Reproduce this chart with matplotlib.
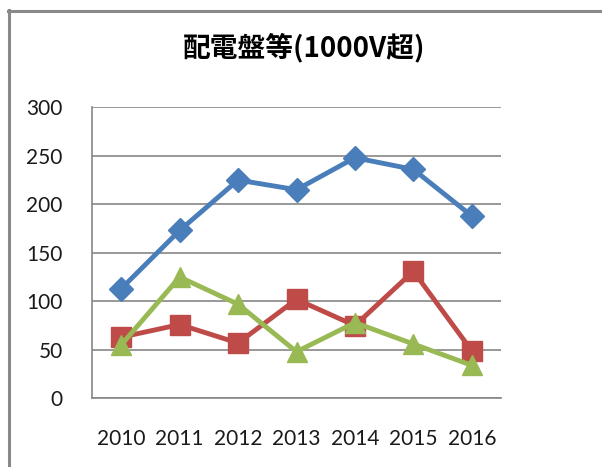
import matplotlib
matplotlib.use("Agg")
import matplotlib.pyplot as plt
from matplotlib.lines import Line2D

years = ["2010", "2011", "2012", "2013", "2014", "2015", "2016"]
series_blue = [113, 173, 225, 215, 248, 236, 188]
series_red = [63, 76, 57, 102, 75, 131, 49]
series_green = [55, 125, 97, 48, 78, 56, 34]
yticks = [0, 50, 100, 150, 200, 250, 300]
title = "配電盤等(1000V超)"

W, H = 602, 467
fig = plt.figure(figsize=(W / 100, H / 100), dpi=100)
fig.patch.set_facecolor("white")

ax = fig.add_axes([92 / W, 1 - 398.3 / H, (501 - 92) / W, (398.3 - 107.3) / H])

x = list(range(len(years)))
ax.plot(x, series_blue, color="#4A7EBB", lw=3.5, marker="D", ms=12.5,
        mfc="#4A7EBB", mec="#4A7EBB", zorder=3)
ax.plot(x, series_red, color="#BE4B48", lw=3.5, marker="s", ms=14.5,
        mfc="#BE4B48", mec="#BE4B48", zorder=4)
ax.plot(x, series_green, color="#98B954", lw=3.5, marker="^", ms=15,
        mfc="#98B954", mec="#98B954", zorder=5)

ax.set_xlim(-0.5, len(years) - 0.5)
ax.set_ylim(0, 300)
ax.set_yticks(yticks)
ax.set_xticks(x)
ax.set_xticklabels(years)
ax.grid(axis="y", color="#868686", lw=1.2)
ax.set_axisbelow(True)
for s in ["top", "right"]:
    ax.spines[s].set_visible(False)
for s in ["left", "bottom"]:
    ax.spines[s].set_color("#868686")
    ax.spines[s].set_linewidth(1.2)
ax.tick_params(length=0)
ax.tick_params(axis="y", pad=21, labelsize=15)
ax.tick_params(axis="x", pad=22, labelsize=15)
for lab in ax.get_xticklabels() + ax.get_yticklabels():
    lab.set_family(["Lato", "DejaVu Sans"])
    lab.set_color("#1a1a1a")

fig.text(304 / W, 1 - 48 / H, title, ha="center", va="center",
         fontsize=20, fontweight="bold",
         family=["Noto Sans CJK JP", "DejaVu Sans"])

# outer chart frame (cropped)
fig.add_artist(Line2D([8 / W, 1.0], [1 - 11.3 / H, 1 - 11.3 / H],
                      transform=fig.transFigure, color="#898989", lw=2.2))
fig.add_artist(Line2D([9.3 / W, 9.3 / W], [1 - 10 / H, 0.0],
                      transform=fig.transFigure, color="#898989", lw=2.2))

fig.savefig("out.png", dpi=100)
